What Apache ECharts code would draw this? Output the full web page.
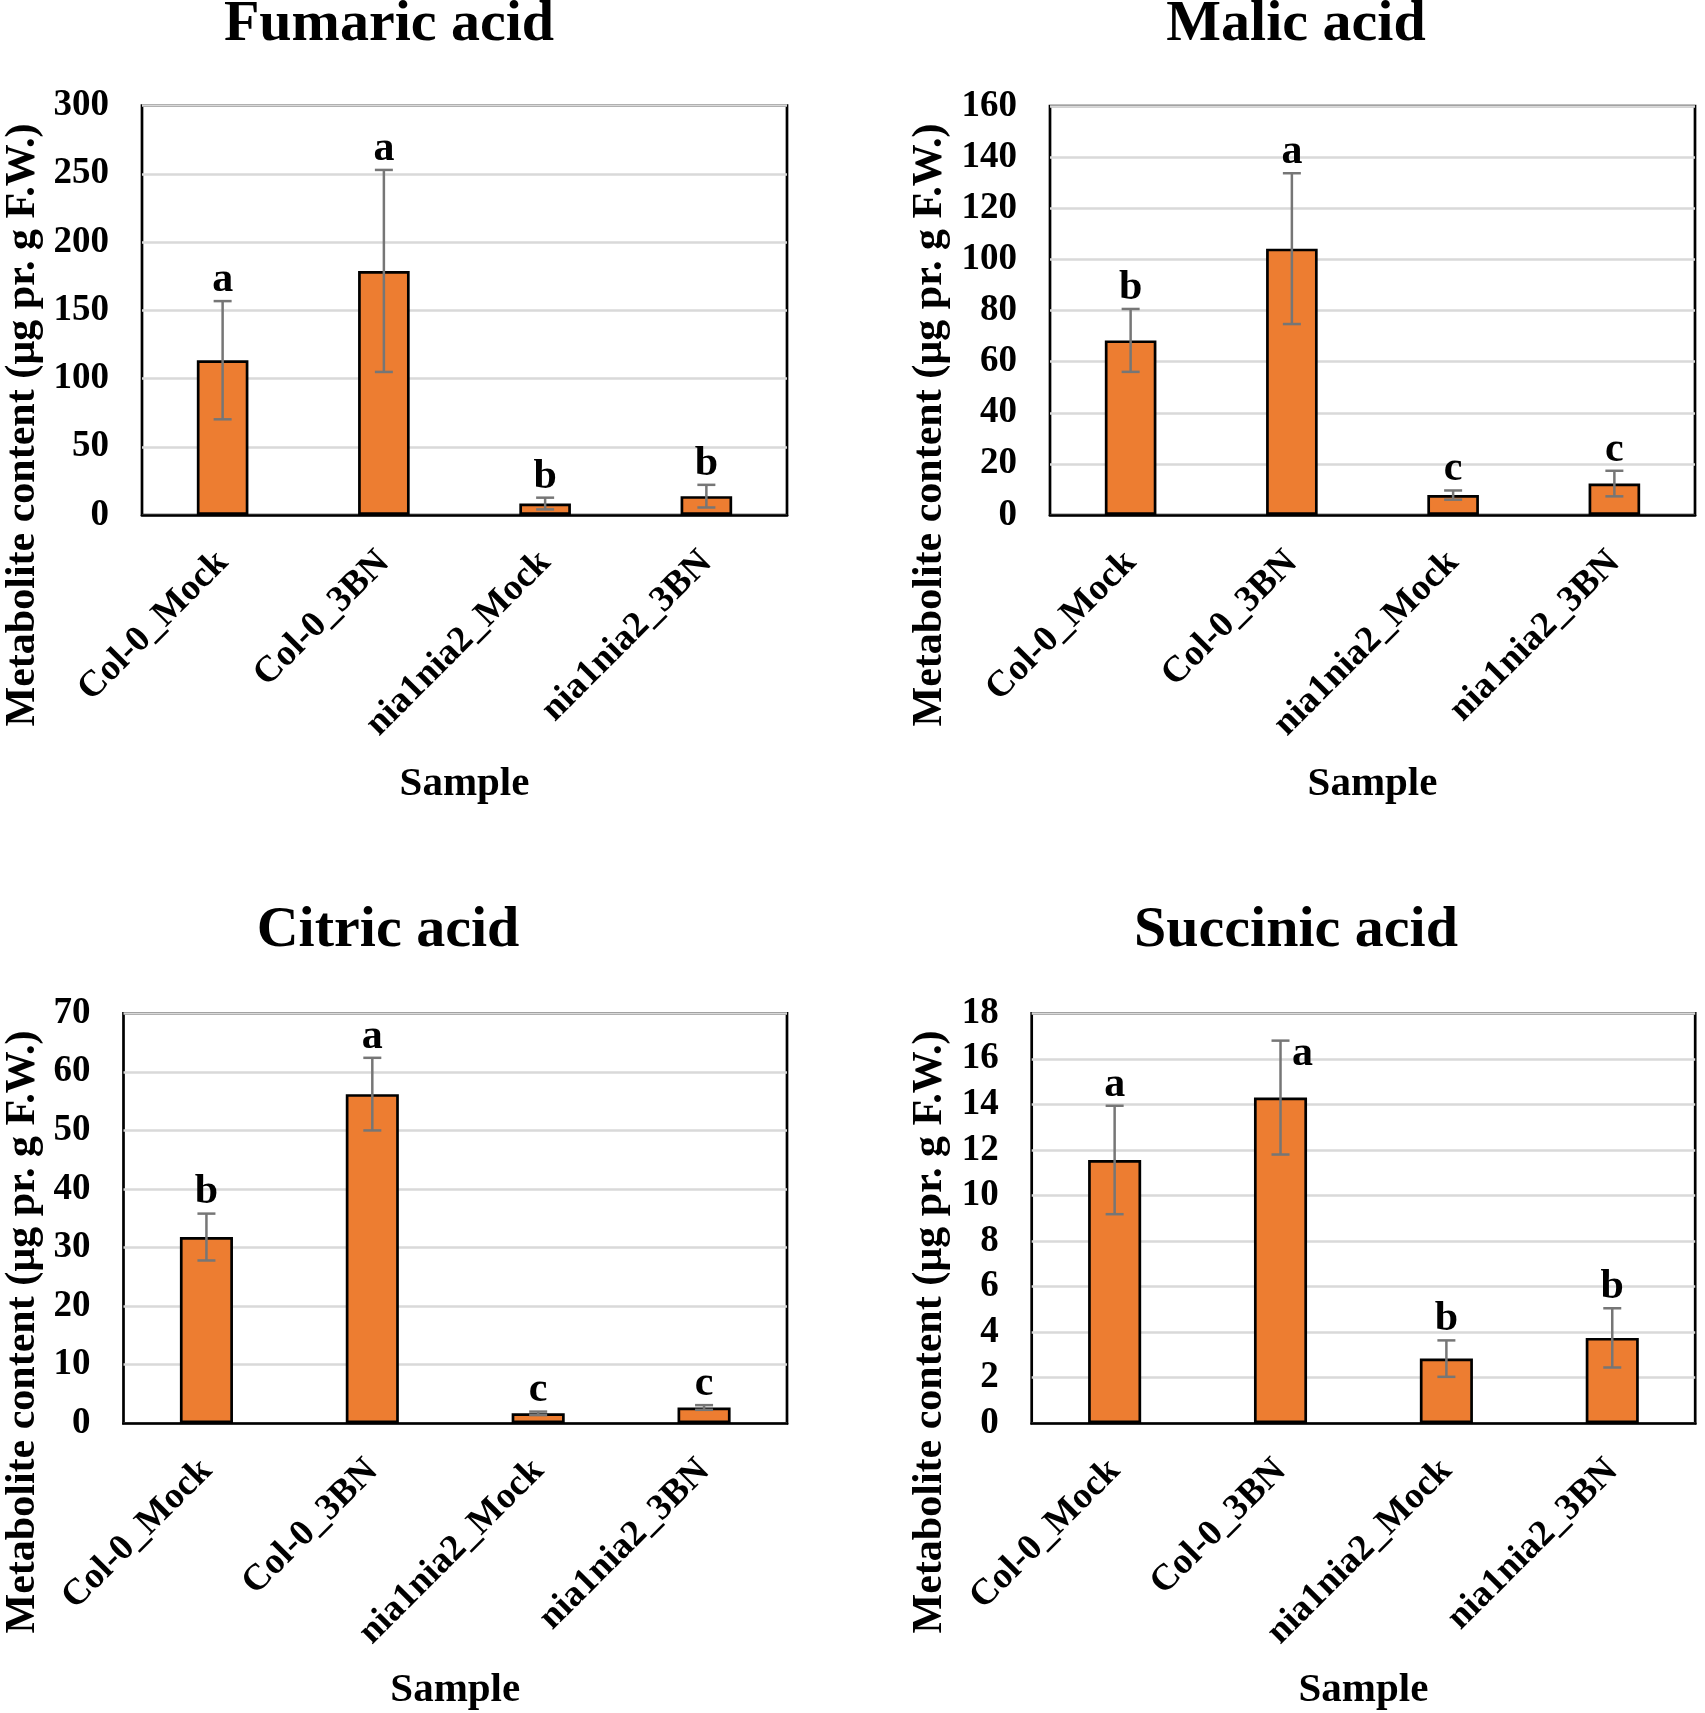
<!DOCTYPE html>
<html>
<head>
<meta charset="utf-8">
<script src="https://cdn.jsdelivr.net/npm/echarts@6/dist/echarts.min.js"></script>
<style>
  html, body { margin: 0; padding: 0; background: #fff; }
  #main { width: 1705px; height: 1713px; }
</style>
</head>
<body>
<div id="main"></div>
<script>
// 样本名
const categories = ['Col-0_Mock', 'Col-0_3BN', 'nia1nia2_Mock', 'nia1nia2_3BN'];

// 各代谢物均值、误差、显著性字母
const fumaricMean = [113.4, 178.8, 8.4, 13.8];
const fumaricErr = [43.3, 74.0, 4.3, 8.3];
const fumaricLetters = ['a', 'a', 'b', 'b'];

const malicMean = [68.3, 104.2, 7.8, 12.3];
const malicErr = [12.3, 29.5, 1.8, 5.0];
const malicLetters = ['b', 'a', 'c', 'c'];

const citricMean = [31.8, 56.2, 1.7, 2.7];
const citricErr = [4.0, 6.2, 0.3, 0.4];
const citricLetters = ['b', 'a', 'c', 'c'];

const succinicMean = [11.56, 14.3, 2.84, 3.75];
const succinicErr = [2.38, 2.5, 0.8, 1.3];
const succinicLetters = ['a', 'a', 'b', 'b'];

// y轴刻度 [min, max, interval]
const fumaricTicks = [0, 300, 50];
const malicTicks = [0, 160, 20];
const citricTicks = [0, 70, 10];
const succinicTicks = [0, 18, 2];

const yName = 'Metabolite content (µg pr. g F.W.)';
const xName = 'Sample';
const FONT = '"Liberation Serif", "Times New Roman", serif';

// 每个小图的位置
const panels = [
    { title: 'Fumaric acid', mean: fumaricMean, err: fumaricErr, letters: fumaricLetters, ticks: fumaricTicks,
      grid: { left: 142, top: 105.5, width: 645, height: 409.5 }, titleX: 389, titleY: 25, yNameX: 23, yNameY: 425, nameGap: 249 },
    { title: 'Malic acid', mean: malicMean, err: malicErr, letters: malicLetters, ticks: malicTicks,
      grid: { left: 1050, top: 106, width: 645, height: 409 }, titleX: 1296, titleY: 25, yNameX: 930, yNameY: 425, nameGap: 249 },
    { title: 'Citric acid', mean: citricMean, err: citricErr, letters: citricLetters, ticks: citricTicks,
      grid: { left: 123.5, top: 1013.3, width: 663.5, height: 410 }, titleX: 388, titleY: 931, yNameX: 23, yNameY: 1332, nameGap: 247 },
    { title: 'Succinic acid', mean: succinicMean, err: succinicErr, letters: succinicLetters, ticks: succinicTicks,
      grid: { left: 1031.7, top: 1013.3, width: 663.5, height: 410 }, titleX: 1296, titleY: 931, yNameX: 930, yNameY: 1332, nameGap: 247,
      letterShift: { 1: [22, 35] } }
];

let myChart = echarts.init(document.getElementById('main'));

let grids = [], xAxes = [], yAxes = [], series = [], graphics = [];

panels.forEach((p, gi) => {
    grids.push(Object.assign({ show: true, borderColor: '#000', borderWidth: 2.7, backgroundColor: 'transparent' }, p.grid));
    xAxes.push({
        type: 'category',
        gridIndex: gi,
        data: categories,
        name: xName,
        nameLocation: 'middle',
        nameGap: p.nameGap,
        nameTextStyle: { fontFamily: FONT, fontWeight: 'bold', fontSize: 41, color: '#000' },
        axisLine: { show: true, lineStyle: { color: '#000', width: 2.7 } },
        axisTick: { show: false },
        axisLabel: { interval: 0, rotate: 45, margin: 42, fontFamily: FONT, fontWeight: 'bold', fontSize: 37, color: '#000' }
    });
    yAxes.push({
        type: 'value',
        gridIndex: gi,
        min: p.ticks[0],
        max: p.ticks[1],
        interval: p.ticks[2],
        axisLine: { show: false },
        axisTick: { show: false },
        splitLine: { show: true, lineStyle: { color: '#d9d9d9', width: 2.5 } },
        axisLabel: { margin: 33, fontFamily: FONT, fontWeight: 'bold', fontSize: 37, color: '#000' }
    });
    // 柱子
    series.push({
        type: 'bar',
        xAxisIndex: gi,
        yAxisIndex: gi,
        data: p.mean,
        barWidth: '32%',
        itemStyle: { color: '#ED7D31', borderColor: '#000', borderWidth: 2.7 },
        z: 2
    });
    // 误差线 + 字母
    const shift = p.letterShift || {};
    series.push({
        type: 'custom',
        xAxisIndex: gi,
        yAxisIndex: gi,
        z: 5,
        data: p.mean.map((m, i) => [i, m, p.err[i]]),
        renderItem: function (params, api) {
            const i = api.value(0), m = api.value(1), e = api.value(2);
            const top = api.coord([i, m + e]);
            const bot = api.coord([i, m - e]);
            const cap = 9;
            const ls = { stroke: '#767676', lineWidth: 2.5 };
            const sh = shift[params.dataIndex] || [0, 0];
            return {
                type: 'group',
                children: [
                    { type: 'line', shape: { x1: top[0], y1: top[1], x2: bot[0], y2: bot[1] }, style: ls },
                    { type: 'line', shape: { x1: top[0] - cap, y1: top[1], x2: top[0] + cap, y2: top[1] }, style: ls },
                    { type: 'line', shape: { x1: bot[0] - cap, y1: bot[1], x2: bot[0] + cap, y2: bot[1] }, style: ls },
                    { type: 'text', style: {
                        text: p.letters[params.dataIndex],
                        x: top[0] + sh[0], y: top[1] + sh[1],
                        textAlign: 'center', textVerticalAlign: 'bottom',
                        font: 'bold 42px ' + FONT, fill: '#000'
                    } }
                ]
            };
        }
    });
    // 标题
    graphics.push({
        type: 'text',
        style: { text: p.title, x: p.titleX, y: p.titleY, textAlign: 'center', textVerticalAlign: 'middle',
                 font: 'bold 58px ' + FONT, fill: '#000' }
    });
    // y轴标题（竖排）
    graphics.push({
        type: 'text',
        rotation: Math.PI / 2,
        x: p.yNameX,
        y: p.yNameY,
        style: { text: yName, x: 0, y: 0, textAlign: 'center', textVerticalAlign: 'middle',
                 font: 'bold 42px ' + FONT, fill: '#000' }
    });
});

let option = {
    backgroundColor: '#fff',
    animation: false,
    grid: grids,
    xAxis: xAxes,
    yAxis: yAxes,
    series: series,
    graphic: graphics
};
myChart.setOption(option);
</script>
</body>
</html>
